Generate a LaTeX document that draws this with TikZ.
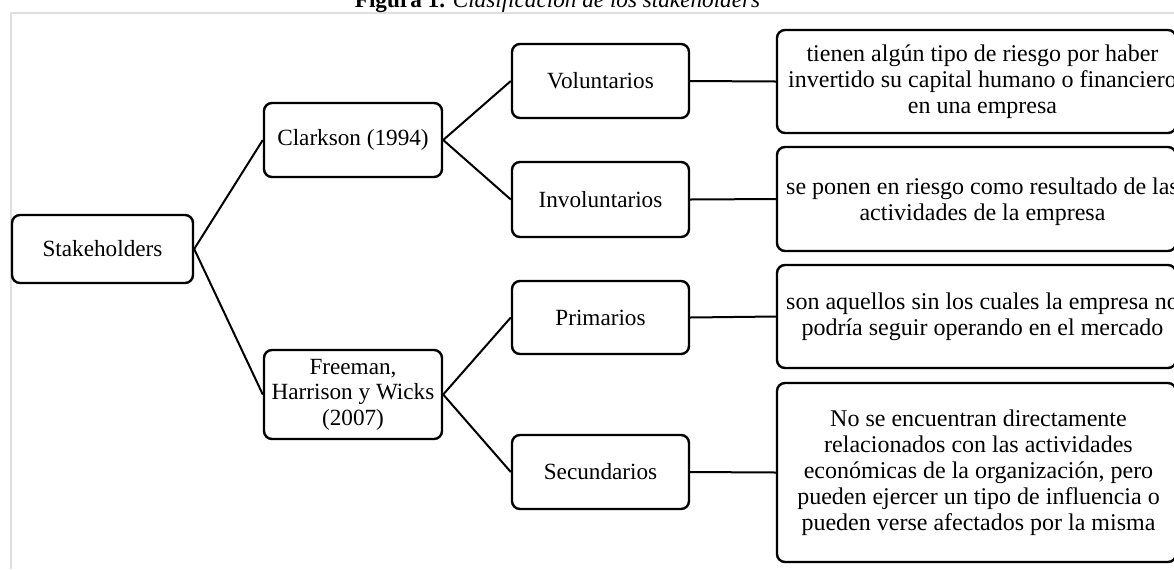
\documentclass[tikz,border=0pt]{standalone}
\usepackage{fontspec}
\setmainfont{Liberation Serif}
\begin{document}
\begin{tikzpicture}[x=0.5pt,y=-0.5pt,
  box/.style={draw=black, line width=1.2pt, rounded corners=4pt, inner sep=0pt, fill=white},
  lbl/.style={font=\fontsize{11.6}{12.8}\selectfont, align=center, inner sep=0pt},
  rlbl/.style={font=\fontsize{12}{13}\selectfont, align=center, inner sep=0pt},
  link/.style={draw=black, line width=1pt}]
\useasboundingbox (0,0) rectangle (1174,569);
\clip (0,0) rectangle (1174,569);
% frame
\draw[gray!25, line width=0.6pt] (11,569) -- (11,13) -- (1174,13);
% title
\node[lbl, anchor=base] (title) at (557.5,7) {\textbf{Figura 1.} \textit{Clasificación de los stakeholders}};
% boxes
\node[box, minimum width=90.5pt, minimum height=34pt] (st) at (102.5,249) {};
\node[lbl] at (st) {Stakeholders};
\node[box, minimum width=89pt, minimum height=37pt] (cl) at (353,140) {};
\node[lbl] at (cl) {Clarkson (1994)};
\node[box, minimum width=89pt, minimum height=44.5pt] (fr) at (353,394.5) {};
\node[lbl] at (fr) {Freeman,\\Harrison y Wicks\\(2007)};
\node[box, minimum width=88.5pt, minimum height=37pt] (vo) at (600.5,81) {};
\node[lbl] at (vo) {Voluntarios};
\node[box, minimum width=88.5pt, minimum height=37.5pt] (in) at (600.5,199.5) {};
\node[lbl] at (in) {Involuntarios};
\node[box, minimum width=88.5pt, minimum height=36.5pt] (pr) at (600.5,317.5) {};
\node[lbl] at (pr) {Primarios};
\node[box, minimum width=88.5pt, minimum height=37pt] (se) at (600.5,472) {};
\node[lbl] at (se) {Secundarios};
% right boxes
\node[box, minimum width=199.5pt, minimum height=51.5pt] (r1) at (976.5,81.5) {};
\node[rlbl] at ([xshift=3pt]r1) {tienen algún tipo de riesgo por haber\\invertido su capital humano o financiero\\en una empresa};
\node[box, minimum width=199.5pt, minimum height=52pt] (r2) at (976.5,199) {};
\node[rlbl] at ([xshift=3pt,yshift=-1.5pt]r2) {se ponen en riesgo como resultado de las\\actividades de la empresa};
\node[box, minimum width=199.5pt, minimum height=51.5pt] (r3) at (976.5,316.5) {};
\node[rlbl] at ([xshift=3pt]r3) {son aquellos sin los cuales la empresa no\\podría seguir operando en el mercado};
\node[box, minimum width=199.5pt, minimum height=89.5pt] (r4) at (976.5,472.5) {};
\node[rlbl] at ([xshift=1pt]r4) {No se encuentran directamente\\relacionados con las actividades\\económicas de la organización, pero\\pueden ejercer un tipo de influencia o\\pueden verse afectados por la misma};
% connectors
\draw[link] (st.east) -- (cl.west);
\draw[link] (st.east) -- (fr.west);
\draw[link] (cl.east) -- (vo.west);
\draw[link] (cl.east) -- (in.west);
\draw[link] (fr.east) -- (pr.west);
\draw[link] (fr.east) -- (se.west);
\draw[link] (vo.east) -- (r1.west);
\draw[link] (in.east) -- (r2.west);
\draw[link] (pr.east) -- (r3.west);
\draw[link] (se.east) -- (r4.west);
\end{tikzpicture}
\end{document}
